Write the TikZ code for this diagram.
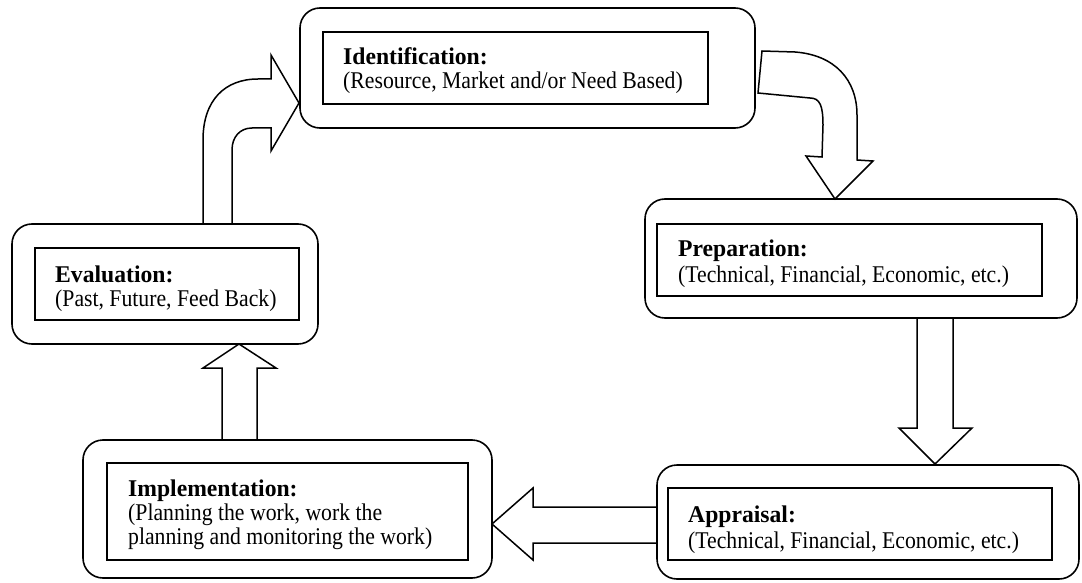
\documentclass[tikz,border=0pt]{standalone}
\usepackage{fontspec}
\setmainfont{Liberation Serif}
% slightly narrowed settings of the serif face for the stage labels
\newfontfamily\stagesub{Liberation Serif}[FakeStretch=0.905]
\newfontfamily\stagehead{Liberation Serif Bold}[FakeStretch=0.985]
\begin{document}
\begin{tikzpicture}[x=1pt,y=-1pt,
  outerbox/.style={draw,line width=1.6pt,rounded corners=20pt},
  innerbox/.style={draw,line width=1.5pt},
  blockarrow/.style={draw,line width=1.5pt,fill=white,line join=miter},
  headtxt/.style={anchor=base west,inner sep=0pt,font=\stagehead\fontsize{24}{26}\selectfont},
  subtxt/.style={anchor=base west,inner sep=0pt,font=\stagesub\fontsize{24}{26}\selectfont}]
\useasboundingbox (0,0) rectangle (1082,583);

% block arrows between the stages
% evaluation -> identification (bent upward then right)
\draw[blockarrow] (203,224) -- (203,140) .. controls (203,100) and (225,79) .. (258,79)
  -- (271,79) -- (271,55) -- (299,103) -- (271,151) -- (271,128) -- (252,128)
  .. controls (240,128) and (232,137) .. (232,150) -- (232,224);
% identification -> preparation (bent right then down)
\draw[blockarrow] (762,51) -- (795,52) .. controls (835,55) and (857,80) .. (857,115)
  -- (857,160) -- (873,161) -- (835,199) -- (806,156) -- (822,157) -- (823,125)
  .. controls (823,106) and (820,98) .. (810,98) -- (758,93) -- cycle;
% preparation -> appraisal
\draw[blockarrow] (917,318) -- (917,428) -- (899,428) -- (935,464) -- (972,428) -- (953,428) -- (953,318);
% appraisal -> implementation
\draw[blockarrow] (657,507) -- (533,507) -- (533,488) -- (492,524) -- (533,560) -- (533,543) -- (657,543);
% implementation -> evaluation
\draw[blockarrow] (222,440) -- (222,368) -- (203,368) -- (239,344) -- (276,368) -- (257,368) -- (257,440);

% identification
\draw[outerbox] (300,8) rectangle (755,128);
\draw[innerbox] (323,32) rectangle (708,104);
\node[headtxt] (idh) at (343,65) {Identification:};
\node[subtxt] (ids) at (343,89) {(Resource, Market and/or Need Based)};

% preparation
\draw[outerbox] (645,199) rectangle (1077,318);
\draw[innerbox] (657,224) rectangle (1042,296);
\node[headtxt] (prh) at (678,256) {Preparation:};
\node[subtxt] (prs) at (678,282) {(Technical, Financial, Economic, etc.)};

% appraisal
\draw[outerbox] (657,465) rectangle (1079,579);
\draw[innerbox] (668,488) rectangle (1052,560);
\node[headtxt] (aph) at (688,522) {Appraisal:};
\node[subtxt] (aps) at (688,548) {(Technical, Financial, Economic, etc.)};

% implementation
\draw[outerbox] (83,440) rectangle (492,578);
\draw[innerbox] (107,463) rectangle (468,560);
\node[headtxt] (imh) at (128,496) {Implementation:};
\node[subtxt] (ims1) at (128,520) {(Planning the work, work the};
\node[subtxt] (ims2) at (128,544) {planning and monitoring the work)};

% evaluation
\draw[outerbox] (12,224) rectangle (318,344);
\draw[innerbox] (35,248) rectangle (299,320);
\node[headtxt] (evh) at (55,282) {Evaluation:};
\node[subtxt] (evs) at (55,306) {(Past, Future, Feed Back)};
\end{tikzpicture}
\end{document}
